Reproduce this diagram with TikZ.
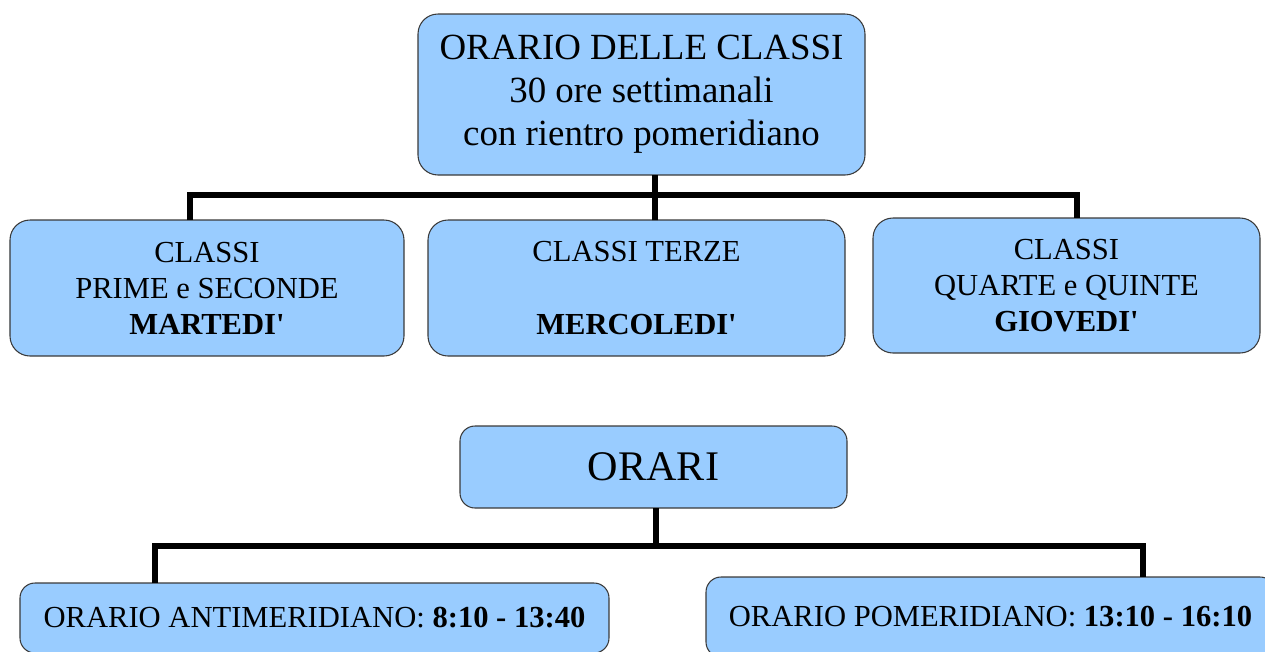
\documentclass[tikz,border=0pt]{standalone}
\usepackage{fontspec}
\setmainfont{Liberation Serif}
\definecolor{boxblue}{HTML}{99CCFF}
\definecolor{boxline}{HTML}{3A3A3A}
\begin{document}
\begin{tikzpicture}[inner sep=0pt,outer sep=0pt,
box/.style={draw=boxline,fill=boxblue,rounded corners=0.4cm,align=center,line width=0.6pt},
bigtext/.style={font=\fontsize{21}{24.5}\selectfont},
midtext/.style={font=\fontsize{17.4}{20.5}\selectfont},
link/.style={line width=3.4pt}]
\clip (0,0) rectangle (25.3,-13.04);
\draw (12.83,-1.89) node[box,bigtext,minimum width=8.94cm,minimum height=3.22cm] (top) {ORARIO DELLE CLASSI\\30 ore settimanali\\con rientro pomeridiano};
\draw (4.14,-5.76) node[box,midtext,minimum width=7.88cm,minimum height=2.72cm] (c1) {CLASSI\\PRIME e SECONDE\\\textbf{MARTEDI\textquotesingle}};
\draw (12.73,-5.76) node[box,midtext,minimum width=8.34cm,minimum height=2.72cm] (c2) {CLASSI TERZE\\[20.5pt]\textbf{MERCOLEDI\textquotesingle}};
\draw (21.33,-5.71) node[box,midtext,minimum width=7.74cm,minimum height=2.7cm] (c3) {CLASSI\\QUARTE e QUINTE\\\textbf{GIOVEDI\textquotesingle}};
\draw (13.07,-9.34) node[box,font=\fontsize{24}{28}\selectfont,minimum width=7.74cm,minimum height=1.64cm,rounded corners=0.3cm] (ora) {ORARI};
\draw (6.29,-12.36) node[box,midtext,minimum width=11.78cm,minimum height=1.4cm,rounded corners=0.3cm] (b1) {ORARIO ANTIMERIDIANO: \textbf{8:10 - 13:40}};
\draw (19.81,-12.34) node[box,midtext,minimum width=11.38cm,minimum height=1.6cm,rounded corners=0.3cm] (b2) {ORARIO POMERIDIANO: \textbf{13:10 - 16:10}};
% classi
\draw[link] ([xshift=0.27cm]top.south) -- ([xshift=0.37cm]c2.north);
\draw[link] ([xshift=-0.34cm]c1.north) -- ++(0,0.5) -| ([xshift=0.21cm]c3.north);
% orari
\draw[link] ([xshift=0.05cm]ora.south) -- ++(0,-0.76);
\draw[link] ([xshift=-3.19cm]b1.north) -- ++(0,0.74) -| ([xshift=3.05cm]b2.north);
\end{tikzpicture}
\end{document}
